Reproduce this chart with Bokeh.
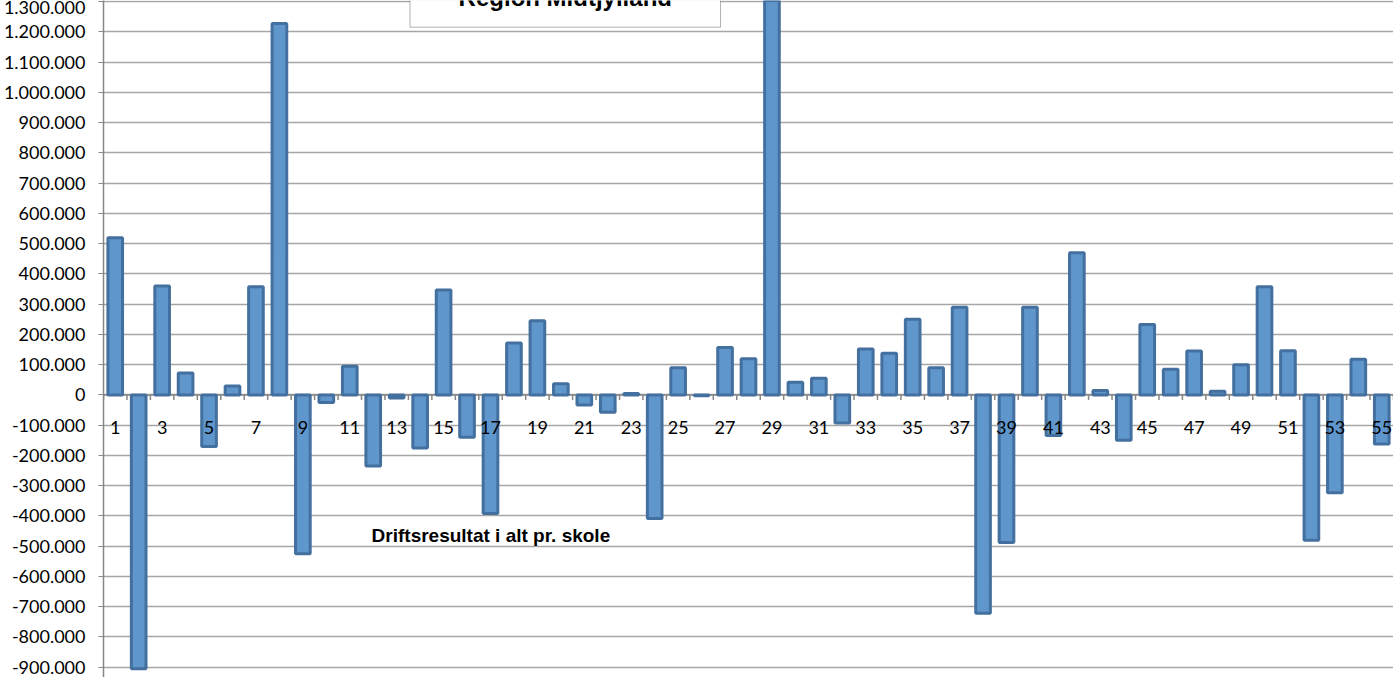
from bokeh.plotting import figure
from bokeh.models import Range1d, FixedTicker, CustomJSTickFormatter, BoxAnnotation, Label, Span
from bokeh.core.properties import value
from bokeh.embed import file_html
from bokeh.resources import INLINE

# ---- data ----
schools = list(range(1, 56))
results = [520000, -905000, 360000, 73000, -170000, 30000, 358000, 1228000, -525000, -25000,
           95000, -235000, -10000, -175000, 347000, -140000, -392000, 172000, 245000, 37000,
           -33000, -57000, 5000, -408000, 90000, -3000, 157000, 120000, 1450000, 42000,
           55000, -93000, 152000, 138000, 250000, 90000, 290000, -722000, -488000, 290000,
           -134000, 470000, 15000, -150000, 233000, 85000, 145000, 12000, 100000, 358000,
           146000, -480000, -323000, 118000, -162000]
x_label_schools = [n for n in schools if n % 2 == 1]
x_tick_labels = [str(n) for n in x_label_schools]
y_ticks = list(range(-900000, 1300001, 100000))
chart_title = "Region Midtjylland"
series_name = "Driftsresultat i alt pr. skole"

# ---- layout constants ----
W, H = 1393, 677
LEFT = 101
FRAME_W = W - LEFT
Y_MIN, Y_MAX = -934000, 1304000
PX = (Y_MAX - Y_MIN) / H          # data units per screen pixel (vertical)
N = len(schools)

def data_y(px):
    return Y_MAX - px * PX

def data_x(px):
    return 0.5 + (px - LEFT) / FRAME_W * N

FILL = "#5F96CB"
EDGE = "#44709F"
GRID = "#a6a6a6"
AXIS = "#868686"
FONT = "Lato"

p = figure(width=W, height=H, x_range=Range1d(0.5, N + 0.5), y_range=Range1d(Y_MIN, Y_MAX),
           output_backend="svg", toolbar_location=None,
           min_border_left=LEFT, min_border_right=0, min_border_top=0, min_border_bottom=0)
p.margin = (0, 0, 0, 0)
p.outline_line_color = None
p.background_fill_color = "white"
p.border_fill_color = "white"

p.xaxis.visible = False
p.xgrid.visible = False
p.ygrid.ticker = FixedTicker(ticks=y_ticks)
p.ygrid.grid_line_color = GRID
p.ygrid.grid_line_width = 1.5

ax = p.yaxis[0]
ax.ticker = FixedTicker(ticks=y_ticks)
ax.formatter = CustomJSTickFormatter(code="""
    const s = Math.abs(Math.round(tick)).toString().replace(/\\B(?=(\\d{3})+(?!\\d))/g, ".");
    return (tick < 0 ? "-" : "") + s;
""")
ax.axis_line_color = AXIS
ax.axis_line_width = 1.5
ax.major_tick_line_color = AXIS
ax.major_tick_out = 5
ax.major_tick_in = 0
ax.minor_tick_out = 0
ax.minor_tick_in = 0
ax.major_label_text_font = FONT
ax.major_label_text_font_size = "18px"
ax.major_label_text_color = "black"
ax.major_label_standoff = 13

# zero line
p.add_layout(Span(location=0, dimension="width", line_color=AXIS, line_width=1.5, level="underlay"))

# category tick marks on zero line
bounds = [k + 0.5 for k in range(0, N + 1)]
p.segment(x0=bounds, y0=[0] * len(bounds), x1=bounds, y1=[-5 * PX] * len(bounds),
          line_color=AXIS, line_width=1.5)

# bars
p.vbar(x=schools, top=results, bottom=0, width=0.625,
       fill_color=FILL, line_color=EDGE, line_width=3)

# category labels next to zero line
p.text(x=x_label_schools, y=[0] * len(x_label_schools), text=x_tick_labels,
       text_font=value(FONT), text_font_size="18px", text_color="black",
       text_align="center", text_baseline="alphabetic", y_offset=33)

# title box
p.add_layout(BoxAnnotation(left=data_x(408), right=data_x(719), bottom=data_y(26.7), top=Y_MAX + 20 * PX,
                           fill_color="white", fill_alpha=1.0, line_color="black", line_width=1,
                           level="annotation"))
p.add_layout(Label(x=data_x(563.5), y=data_y(-3), text=chart_title, text_align="center",
                   text_baseline="alphabetic", text_font="Liberation Sans", text_font_style="bold",
                   text_font_size="24px", text_color="black"))

# series label
p.add_layout(Label(x=data_x(489), y=data_y(535), text=series_name, text_align="center",
                   text_baseline="alphabetic", text_font="Liberation Sans", text_font_style="bold",
                   text_font_size="19px", text_color="black"))

open("out.html", "w").write(file_html(p, INLINE))
